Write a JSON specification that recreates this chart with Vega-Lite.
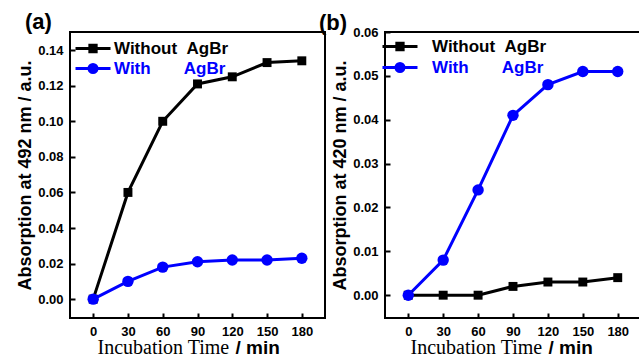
{
  "$schema": "https://vega.github.io/schema/vega-lite/v6.json",
  "background": "white",
  "padding": {"left": 15, "top": 10, "right": 0, "bottom": 0},
  "spacing": 60,
  "bounds": "flush",
  "resolve": {"scale": {"color": "independent"}, "legend": {"color": "independent"}},
  "config": {
    "font": "Liberation Sans",
    "view": {"stroke": "black", "strokeWidth": 2},
    "axis": {
      "grid": false,
      "domain": false,
      "tickColor": "black",
      "tickWidth": 2,
      "tickSize": -5,
      "labelPadding": 12,
      "labelColor": "black",
      "labelFont": "Liberation Sans",
      "labelFontWeight": "bold",
      "labelFontSize": 13,
      "titleColor": "black"
    },
    "legend": {
      "orient": "top-left",
      "offset": 8,
      "padding": 0,
      "rowPadding": 3,
      "labelFont": "Liberation Sans",
      "labelFontSize": 17,
      "labelFontWeight": "bold",
      "labelOffset": 19,
      "symbolSize": 196,
      "symbolStrokeWidth": 3,
      "title": null
    },
    "title": {"font": "Liberation Sans", "fontSize": 22, "fontWeight": "bold", "anchor": "start", "frame": "group", "baseline": "alphabetic", "color": "black"}
  },
  "datasets": {
    "a": [
      {"series": "Without", "t": 0, "v": 0.0},
      {"series": "Without", "t": 30, "v": 0.060},
      {"series": "Without", "t": 60, "v": 0.100},
      {"series": "Without", "t": 90, "v": 0.121},
      {"series": "Without", "t": 120, "v": 0.125},
      {"series": "Without", "t": 150, "v": 0.133},
      {"series": "Without", "t": 180, "v": 0.134},
      {"series": "With", "t": 0, "v": 0.0},
      {"series": "With", "t": 30, "v": 0.010},
      {"series": "With", "t": 60, "v": 0.018},
      {"series": "With", "t": 90, "v": 0.021},
      {"series": "With", "t": 120, "v": 0.022},
      {"series": "With", "t": 150, "v": 0.022},
      {"series": "With", "t": 180, "v": 0.023}
    ],
    "b": [
      {"series": "Without", "t": 0, "v": 0.0},
      {"series": "Without", "t": 30, "v": 0.0},
      {"series": "Without", "t": 60, "v": 0.0},
      {"series": "Without", "t": 90, "v": 0.002},
      {"series": "Without", "t": 120, "v": 0.003},
      {"series": "Without", "t": 150, "v": 0.003},
      {"series": "Without", "t": 180, "v": 0.004},
      {"series": "With", "t": 0, "v": 0.0},
      {"series": "With", "t": 30, "v": 0.008},
      {"series": "With", "t": 60, "v": 0.024},
      {"series": "With", "t": 90, "v": 0.041},
      {"series": "With", "t": 120, "v": 0.048},
      {"series": "With", "t": 150, "v": 0.051},
      {"series": "With", "t": 180, "v": 0.051}
    ]
  },
  "hconcat": [
    {
      "width": 255,
      "height": 286,
      "title": {"text": "(a)", "dx": -45, "offset": -2},
      "data": {"name": "a"},
      "layer": [
        {
          "mark": {"type": "line", "strokeWidth": 3},
          "encoding": {
            "x": {"field": "t", "type": "quantitative", "scale": {"domain": [-20, 200], "nice": false, "zero": false},
              "axis": {"orient": "bottom", "values": [0, 30, 60, 90, 120, 150, 180], "title": "Incubation Time", "titleFont": "Liberation Serif", "titleFontSize": 20, "titleFontWeight": "normal", "titleX": 27, "titleY": 35, "titleAlign": "left", "titleBaseline": "alphabetic"}},
            "y": {"field": "v", "type": "quantitative", "scale": {"domain": [-0.0106, 0.1502], "nice": false, "zero": false},
              "axis": {"values": [0, 0.02, 0.04, 0.06, 0.08, 0.1, 0.12, 0.14], "format": ".2f", "title": "Absorption at 492 nm / a.u.", "titleFont": "Liberation Sans", "titleFontSize": 18, "titleFontWeight": "bold", "titlePadding": 3}},
            "color": {"field": "series", "type": "nominal", "sort": ["Without", "With"],
              "scale": {"domain": ["Without", "With"], "range": ["black", "#0000ff"]},
              "legend": {
                "offset": 8,
                "labelOffset": 19,
                "rowPadding": 0,
                "labelExpr": "datum.value == 'With' ? 'With\u00a0\u00a0\u00a0\u00a0\u00a0\u00a0\u00a0AgBr' : 'Without\u00a0\u00a0AgBr'",
                "labelColor": {"expr": "datum.value == 'With' ? '#0000ff' : 'black'"},
                "symbolType": {"expr": "datum.value == 'With' ? 'M-1.57,0H3.43M1.5,0A0.57,0.57,0,1,1,0.36,0A0.57,0.57,0,1,1,1.5,0Z' : 'M-1.57,0H3.43M0.48,-0.45H1.38V0.45H0.48Z'"},
                "symbolFillColor": {"expr": "datum.value == 'With' ? '#0000ff' : 'black'"},
                "symbolStrokeColor": {"expr": "datum.value == 'With' ? '#0000ff' : 'black'"}
              }}
          }
        },
        {
          "transform": [{"filter": "datum.series == 'Without'"}],
          "mark": {"type": "point", "filled": true, "opacity": 1, "shape": "square", "size": 80, "color": "black"},
          "encoding": {
            "x": {"field": "t", "type": "quantitative",
              "axis": {"orient": "bottom", "labels": false, "ticks": false, "domain": false, "title": "/ min", "titleFont": "Liberation Sans", "titleFontSize": 19, "titleFontWeight": "bold", "titleX": 165, "titleY": 35, "titleAlign": "left", "titleBaseline": "alphabetic"}},
            "y": {"field": "v", "type": "quantitative"}
          }
        },
        {
          "transform": [{"filter": "datum.series == 'With'"}],
          "mark": {"type": "point", "filled": true, "opacity": 1, "shape": "circle", "size": 130, "color": "#0000ff"},
          "encoding": {
            "x": {"field": "t", "type": "quantitative", "axis": null},
            "y": {"field": "v", "type": "quantitative"}
          }
        }
      ],
      "resolve": {"axis": {"x": "independent"}}
    },
    {
      "width": 256,
      "height": 286,
      "title": {"text": "(b)", "dx": -66, "offset": -9},
      "data": {"name": "b"},
      "layer": [
        {
          "mark": {"type": "line", "strokeWidth": 3},
          "encoding": {
            "x": {"field": "t", "type": "quantitative", "scale": {"domain": [-20, 200], "nice": false, "zero": false},
              "axis": {"orient": "bottom", "values": [0, 30, 60, 90, 120, 150, 180], "title": "Incubation Time", "titleFont": "Liberation Serif", "titleFontSize": 20, "titleFontWeight": "normal", "titleX": 25, "titleY": 35, "titleAlign": "left", "titleBaseline": "alphabetic"}},
            "y": {"field": "v", "type": "quantitative", "scale": {"domain": [-0.0052, 0.06], "nice": false, "zero": false},
              "axis": {"values": [0, 0.01, 0.02, 0.03, 0.04, 0.05, 0.06], "format": ".2f", "title": "Absorption at 420 nm / a.u.", "titleFont": "Liberation Sans", "titleFontSize": 18, "titleFontWeight": "bold", "titlePadding": 3}},
            "color": {"field": "series", "type": "nominal", "sort": ["Without", "With"],
              "scale": {"domain": ["Without", "With"], "range": ["black", "#0000ff"]},
              "legend": {
                "offset": 6,
                "labelOffset": 24,
                "rowPadding": 1,
                "labelExpr": "datum.value == 'With' ? 'With\u00a0\u00a0\u00a0\u00a0\u00a0\u00a0\u00a0AgBr' : 'Without\u00a0\u00a0AgBr'",
                "labelColor": {"expr": "datum.value == 'With' ? '#0000ff' : 'black'"},
                "symbolType": {"expr": "datum.value == 'With' ? 'M-2.43,0H2.57M0.64,0A0.57,0.57,0,1,1,-0.5,0A0.57,0.57,0,1,1,0.64,0Z' : 'M-2.43,0H2.57M-0.38,-0.45H0.52V0.45H-0.38Z'"},
                "symbolFillColor": {"expr": "datum.value == 'With' ? '#0000ff' : 'black'"},
                "symbolStrokeColor": {"expr": "datum.value == 'With' ? '#0000ff' : 'black'"}
              }}
          }
        },
        {
          "transform": [{"filter": "datum.series == 'Without'"}],
          "mark": {"type": "point", "filled": true, "opacity": 1, "shape": "square", "size": 80, "color": "black"},
          "encoding": {
            "x": {"field": "t", "type": "quantitative",
              "axis": {"orient": "bottom", "labels": false, "ticks": false, "domain": false, "title": "/ min", "titleFont": "Liberation Sans", "titleFontSize": 19, "titleFontWeight": "bold", "titleX": 163, "titleY": 35, "titleAlign": "left", "titleBaseline": "alphabetic"}},
            "y": {"field": "v", "type": "quantitative"}
          }
        },
        {
          "transform": [{"filter": "datum.series == 'With'"}],
          "mark": {"type": "point", "filled": true, "opacity": 1, "shape": "circle", "size": 130, "color": "#0000ff"},
          "encoding": {
            "x": {"field": "t", "type": "quantitative", "axis": null},
            "y": {"field": "v", "type": "quantitative"}
          }
        }
      ],
      "resolve": {"axis": {"x": "independent"}}
    }
  ]
}
